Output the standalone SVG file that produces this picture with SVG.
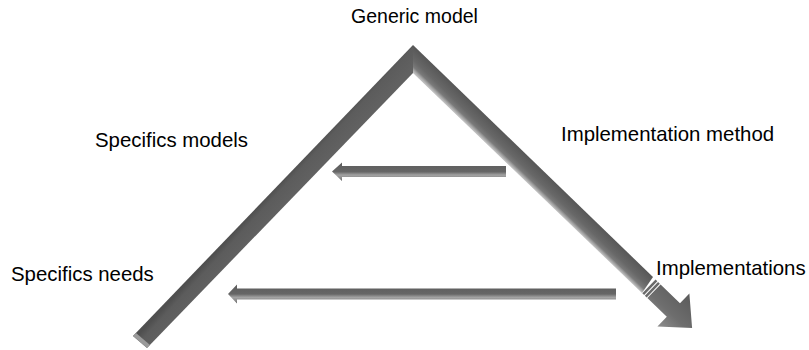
<svg xmlns="http://www.w3.org/2000/svg" width="809" height="350" viewBox="0 0 809 350">
  <style>
    .lbl { font-family: "Liberation Sans", Arial, sans-serif; font-size: 20.4px; fill: #000; }
  </style>
  <defs>
    <linearGradient id="gLeft" gradientUnits="userSpaceOnUse" x1="273" y1="190" x2="287" y2="203">
      <stop offset="0" stop-color="#4f4f4f"/>
      <stop offset="0.3" stop-color="#5c5c5c"/>
      <stop offset="1" stop-color="#616161"/>
    </linearGradient>
    <linearGradient id="gRight" gradientUnits="userSpaceOnUse" x1="533" y1="161" x2="519.8" y2="174.7">
      <stop offset="0" stop-color="#575757"/>
      <stop offset="0.55" stop-color="#686868"/>
      <stop offset="0.8" stop-color="#7a7a7a"/>
      <stop offset="0.9" stop-color="#9e9e9e"/>
      <stop offset="1" stop-color="#bdbdbd"/>
    </linearGradient>
    <linearGradient id="gHead" x1="0" y1="0" x2="0" y2="1">
      <stop offset="0" stop-color="#5a5a5a"/>
      <stop offset="0.6" stop-color="#6e6e6e"/>
      <stop offset="1" stop-color="#8e8e8e"/>
    </linearGradient>
    <linearGradient id="gArrow" x1="0" y1="0" x2="0" y2="1">
      <stop offset="0" stop-color="#5c5c5c"/>
      <stop offset="0.5" stop-color="#666666"/>
      <stop offset="0.68" stop-color="#a3a3a3"/>
      <stop offset="0.85" stop-color="#8a8a8a"/>
      <stop offset="1" stop-color="#5e5e5e"/>
    </linearGradient>
  </defs>

  <g id="chevron">
    <polygon points="133,336 413,45 413,73 147,348" fill="url(#gLeft)"/>
    <polygon points="413,45 653,277 642,293 413,73" fill="url(#gRight)"/>
    <polygon points="133,336 136,333 150,345 147,348" fill="#9a9a9a"/>
    <g transform="translate(647.5,285) rotate(44)">
      <rect x="2" y="-9.5" width="2.5" height="19" fill="#6a6a6a"/>
      <rect x="5.5" y="-9.5" width="2.5" height="19" fill="#6a6a6a"/>
      <polygon points="9,-9.5 36,-9.5 36,-23 62,0 36,23 36,9.5 9,9.5" fill="url(#gHead)"/>
    </g>
  </g>

  <g id="connectors">
    <polygon id="arrow-upper" points="332,171.5 342,162.5 342,166 506,166 506,177 342,177 342,181" fill="url(#gArrow)"/>
    <polygon id="arrow-lower" points="228,294 237,284.5 237,288.5 616,288.5 616,299.5 237,299.5 237,303.5" fill="url(#gArrow)"/>
  </g>

  <g id="label-generic"><text class="lbl" x="414.5" y="23" text-anchor="middle" style="font-size:19.5px">Generic model</text></g>
  <g id="label-specifics-models"><text class="lbl" x="95" y="147">Specifics models</text></g>
  <g id="label-implementation-method"><text class="lbl" x="561" y="141">Implementation method</text></g>
  <g id="label-specifics-needs"><text class="lbl" x="11" y="281">Specifics needs</text></g>
  <g id="label-implementations"><text class="lbl" x="656" y="275">Implementations</text></g>
</svg>
